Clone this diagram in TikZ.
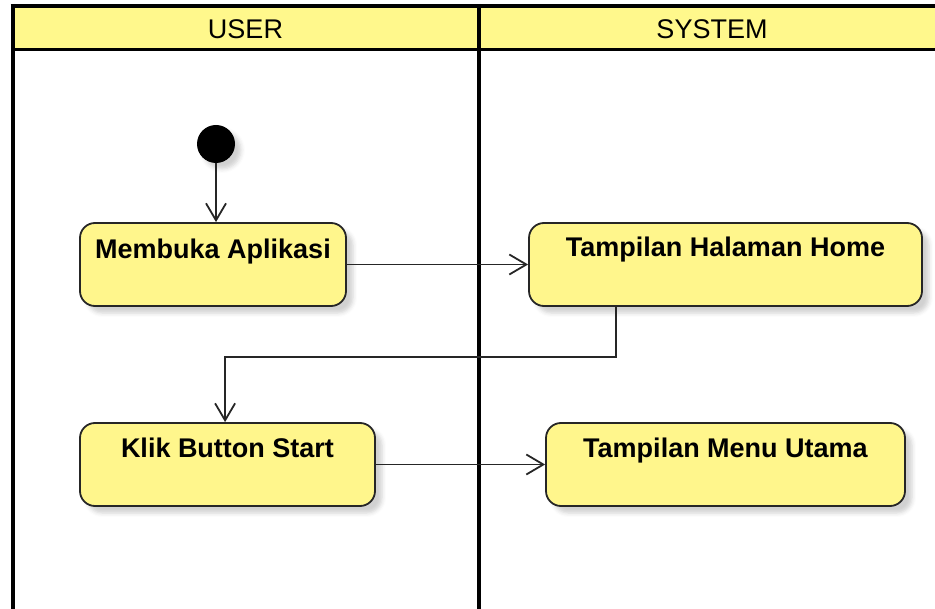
\documentclass[tikz,border=0pt]{standalone}
\usepackage{fontspec}
\setmainfont{Liberation Sans}
\usetikzlibrary{arrows.meta,calc,shadows.blur}

\definecolor{laneyellow}{RGB}{255,248,140}
\definecolor{actyellow}{RGB}{255,246,140}

\tikzset{
  lanehead/.style={font=\fontsize{27}{32}\selectfont, inner sep=0pt},
  actbox/.style={draw=black!85, line width=1.8pt, fill=actyellow,
    rounded corners=15pt, inner sep=0pt,
    blur shadow={shadow xshift=7pt, shadow yshift=-7pt,
      shadow blur radius=4pt, shadow opacity=18}},
  acttext/.style={font=\bfseries\fontsize{27}{32}\selectfont, inner sep=0pt, anchor=base},
  startdot/.style={circle, fill=black, inner sep=0pt, minimum size=38pt,
    blur shadow={shadow xshift=6pt, shadow yshift=-6pt,
      shadow blur radius=4pt, shadow opacity=18}},
  flow/.style={draw=black!85, line width=1.8pt,
    -{Straight Barb[length=17pt, width=20pt, line width=1.8pt]}},
  laneline/.style={line width=4pt, black},
}

\begin{document}
\begin{tikzpicture}[x=1pt, y=-1pt]
  \useasboundingbox (0,0) rectangle (935,609);

  % swimlane header band
  \fill[laneyellow] (12,6) rectangle (935,50);
  \draw[line width=3pt] (12,50) -- (935,50);
  \draw[laneline] (10.5,6) -- (935,6);
  \draw[laneline] (12.5,4) -- (12.5,609);
  \draw[laneline] (479,4) -- (479,609);

  \node[lanehead] (huser) at (245.5,29) {USER};
  \node[lanehead] (hsys) at (712,29) {SYSTEM};

  % start point
  \node[startdot] (start) at (216,144) {};

  % activities
  \node[actbox, minimum width=266pt, minimum height=83pt] (b1) at (213,264.5) {};
  \node[acttext] (t1) at ($(b1.north)+(0,36)$) {Membuka Aplikasi};

  \node[actbox, minimum width=393pt, minimum height=83pt] (b2) at (725.5,264.5) {};
  \node[acttext] (t2) at ($(b2.north)+(0,34)$) {Tampilan Halaman Home};

  \node[actbox, minimum width=295pt, minimum height=83pt] (b3) at (227.5,464.5) {};
  \node[acttext] (t3) at ($(b3.north)+(0,35)$) {Klik Button Start};

  \node[actbox, minimum width=359pt, minimum height=83pt] (b4) at (725.5,464.5) {};
  \node[acttext] (t4) at ($(b4.north)+(0,35)$) {Tampilan Menu Utama};

  % control flow
  \draw[flow] (start.south) -- (start.south |- b1.north);
  \draw[flow] (b1.east) -- (b2.west);
  \draw[flow] ($(b2.south west)+(88,0)$) -- ++(0,50) -| ($(b3.north west)+(146,0)$);
  \draw[flow] (b3.east) -- (b4.west);
\end{tikzpicture}
\end{document}
